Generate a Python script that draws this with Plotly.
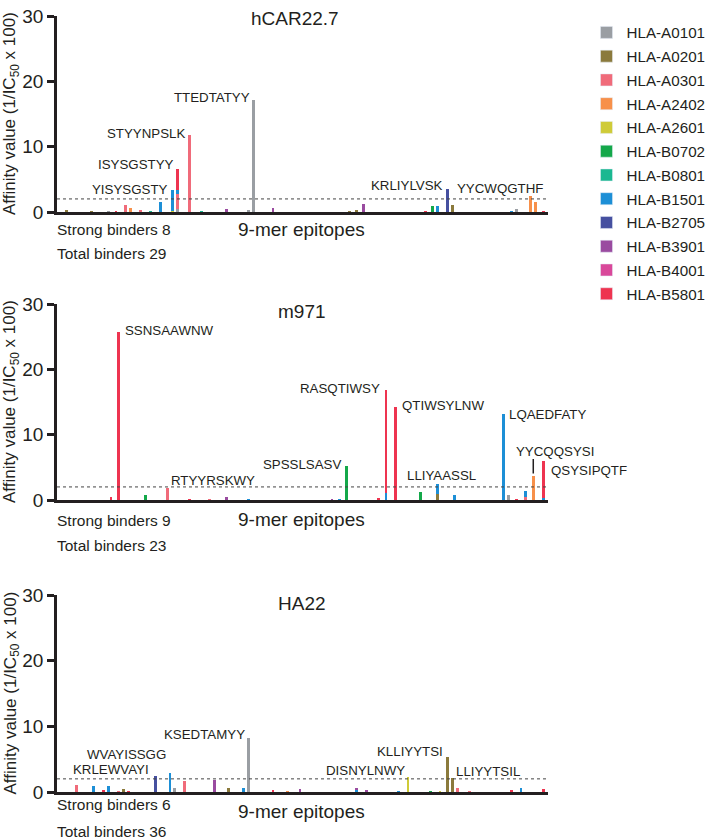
import plotly.graph_objects as go
from collections import defaultdict

W, H = 708, 840

ALLELES = ["HLA-A0101", "HLA-A0201", "HLA-A0301", "HLA-A2402", "HLA-A2601", "HLA-B0702",
           "HLA-B0801", "HLA-B1501", "HLA-B2705", "HLA-B3901", "HLA-B4001", "HLA-B5801"]
COLORS = ["#9A9EA3", "#8B7A3C", "#F06B7A", "#F7904A", "#CFCB38", "#14A84A",
          "#1BB891", "#1D8FD6", "#4650A0", "#9A4BA0", "#D9489A", "#EE3450"]

THRESHOLD = 2

# ---- hCAR22.7 ----
hcar_pos = [4, 14, 21, 24, 28, 30, 34, 38, 42, 47, 47, 49, 49, 49, 49, 54, 59, 69, 78, 80, 88,
            119, 122, 125, 150, 153, 155, 159, 161, 185, 187, 193, 195, 198]
hcar_allele = ["A0201", "A0201", "A0101", "B5801", "A0301", "A2402", "A0301", "B0801", "B1501",
               "B1501", "A2601", "B5801", "B1501", "A0301", "A0101", "A0301", "B0801", "B3901",
               "A0101", "A0101", "B3901", "A0201", "A0201", "B3901", "B5801", "B0702", "B1501",
               "B2705", "A0201", "B1501", "A0101", "A2402", "A2402", "B5801"]
hcar_val = [0.3, 0.15, 0.15, 0.15, 1.1, 0.6, 0.2, 0.1, 1.5,
            3.4, 0.15, 6.6, 3.3, 2.7, 0.5, 11.8, 0.1, 0.5,
            0.3, 17.2, 0.6, 0.15, 0.25, 1.2, 0.1, 0.85, 0.85,
            3.5, 1.0, 0.1, 0.45, 2.4, 1.5, 0.1]

# ---- m971 ----
m971_pos = [22, 25, 36, 45, 54, 62, 69, 78, 112, 115, 118, 131, 134, 134, 138, 148, 155, 155,
            162, 182, 184, 187, 191, 191, 194, 198, 198]
m971_allele = ["B5801", "B5801", "B0702", "A0301", "B5801", "A0301", "B3901", "B1501", "B3901",
               "B1501", "B0702", "B5801", "B5801", "B1501", "B5801", "B0702", "B1501", "A0201",
               "B1501", "B1501", "A0101", "B5801", "B1501", "A0301", "A2402", "B5801", "B1501"]
m971_val = [0.4, 25.7, 0.7, 1.9, 0.1, 0.1, 0.4, 0.1, 0.1,
            0.15, 5.2, 0.25, 16.9, 1.1, 14.3, 1.3, 2.4, 0.9,
            0.75, 13.1, 0.75, 0.1, 1.4, 0.4, 3.6, 6.0, 0.3]

# ---- HA22 ----
ha22_pos = [8, 15, 19, 21, 25, 27, 29, 40, 46, 48, 52, 64, 70, 76, 78, 88, 94, 99, 122, 122,
            126, 139, 143, 152, 156, 159, 161, 163, 168, 185, 189, 198]
ha22_allele = ["A0301", "B1501", "B5801", "B1501", "A0301", "A0201", "B5801", "B2705", "B1501",
               "A0101", "A0301", "B3901", "A0201", "B1501", "A0101", "B5801", "A2402", "B3901",
               "B3901", "B1501", "B3901", "B1501", "A2601", "B0702", "A2601", "A0201", "A0201",
               "A0301", "A0301", "B5801", "B1501", "B5801"]
ha22_val = [1.05, 0.85, 0.2, 0.9, 0.15, 0.45, 0.15, 2.5, 2.9,
            0.6, 1.7, 1.8, 0.55, 0.55, 8.3, 0.35, 0.1, 0.45,
            0.55, 0.2, 0.35, 0.15, 2.3, 0.15, 0.1, 5.4, 2.2,
            0.55, 0.1, 0.25, 0.65, 0.4]

PANEL_TITLES = ["hCAR22.7", "m971", "HA22"]
STRONG = [8, 9, 6]
TOTAL = [29, 23, 36]

# epitope labels: (text, position, value, xanchor, xshift px, yshift px)
hcar_labels = [("TTEDTATYY", 80, 17.2, "right", -1.5, 2),
               ("STYYNPSLK", 54, 11.8, "right", -3, 1),
               ("ISYSGSTYY", 49, 6.6, "right", -1.5, 4),
               ("YISYSGSTY", 47, 3.4, "right", -2, 0.5),
               ("KRLIYLVSK", 159, 3.5, "right", -2.5, 3.5),
               ("YYCWQGTHF", 193, 2.4, "right", 14, 8)]
m971_labels = [("SSNSAAWNW", 25, 25.7, "left", 5, 1.5),
               ("RTYYRSKWY", 45, 1.9, "left", 1.5, 7),
               ("SPSSLSASV", 118, 5.2, "right", -4, 1.5),
               ("RASQTIWSY", 134, 16.9, "right", -4, 1.5),
               ("QTIWSYLNW", 138, 14.3, "left", 4, 1.5),
               ("LLIYAASSL", 155, 2.4, "center", 4, 8.5),
               ("LQAEDFATY", 182, 13.1, "left", 3, 0),
               ("YYCQQSYSI", 194, 3.6, "center", 21.5, 25),
               ("QSYSIPQTF", 198, 6.0, "left", 6, -10)]
ha22_labels = [("KRLEWVAYI", 40, 2.5, "right", -4, 5.6),
               ("WVAYISSGG", 46, 2.9, "right", -2, 18),
               ("KSEDTAMYY", 78, 8.3, "right", -1, 3.4),
               ("DISNYLNWY", 143, 2.3, "right", -1.5, 6.7),
               ("KLLIYYTSI", 159, 5.4, "right", -2, 5),
               ("LLIYYTSIL", 161, 2.2, "left", 2, 5.6)]

# ---------------- layout geometry (pixels) ----------------
X0, X1 = 57, 548
PANEL_PX = [(16, 212), (304, 500), (595, 792)]   # (top of 30, bottom at 0)
FOOT_Y = [(229.5, 253.5, 229.5), (520, 545, 519), (804.5, 831.5, 811.5)]
TITLE_PX = [(295, 18.5), (301.5, 311), (301.5, 603)]

FONT = "Liberation Sans, Arial, sans-serif"
INK = "#231F20"


def px_x(p):
    return p / W


def px_y(p):
    return 1 - p / H


fig = go.Figure()

# legend entries
for name, col in zip(ALLELES, COLORS):
    fig.add_trace(go.Bar(x=[None], y=[None], name=name, marker_color=col,
                         legendgroup=name, showlegend=True, xaxis="x", yaxis="y"))

color_of = {a.replace("HLA-", ""): c for a, c in zip(ALLELES, COLORS)}
panels = [(hcar_pos, hcar_allele, hcar_val), (m971_pos, m971_allele, m971_val),
          (ha22_pos, ha22_allele, ha22_val)]

for i, (pos, alle, val) in enumerate(panels):
    ax = "" if i == 0 else str(i + 1)
    bypos = defaultdict(list)
    for p, a, v in zip(pos, alle, val):
        bypos[p].append((v, a))
    layers = defaultdict(lambda: ([], []))
    for p, items in bypos.items():
        for rank, (v, a) in enumerate(sorted(items, reverse=True)):
            layers[(rank, a)][0].append(p)
            layers[(rank, a)][1].append(v)
    for (rank, a) in sorted(layers.keys()):
        xs, ys = layers[(rank, a)]
        fig.add_trace(go.Bar(x=xs, y=ys, width=1.15, marker_color=color_of[a],
                             marker_line_width=0, showlegend=False,
                             legendgroup="HLA-" + a, name="HLA-" + a,
                             xaxis="x" + ax, yaxis="y" + ax))

annotations = []
shapes = []
layout_axes = {}
for i in range(3):
    ax = "" if i == 0 else str(i + 1)
    top, bot = PANEL_PX[i]
    layout_axes["xaxis" + ax] = dict(domain=[px_x(X0), px_x(X1)], range=[0, 200],
                                     showline=True, linecolor=INK, linewidth=2.5,
                                     showticklabels=False, ticks="", showgrid=False,
                                     zeroline=False, anchor="y" + ax, fixedrange=True)
    layout_axes["yaxis" + ax] = dict(domain=[px_y(bot), px_y(top)], range=[0, 30],
                                     tickvals=[0, 10, 20, 30], ticks="outside", ticklen=7,
                                     tickwidth=2.5, tickcolor=INK, showline=True,
                                     linecolor=INK, linewidth=2.5, showgrid=False,
                                     zeroline=False, anchor="x" + ax, fixedrange=True,
                                     tickfont=dict(size=19, color=INK, family=FONT))
    # threshold line
    shapes.append(dict(type="line", xref="x" + ax, yref="y" + ax, x0=0, x1=200,
                       y0=THRESHOLD, y1=THRESHOLD,
                       line=dict(color="#444444", width=1, dash="dot")))
    # y title
    annotations.append(dict(text="Affinity value (1/IC<sub>50</sub> x 100)", textangle=-90,
                            xref="paper", yref="paper", x=px_x(11), y=px_y((top + bot) / 2),
                            xanchor="center", yanchor="middle", showarrow=False,
                            font=dict(size=17, color=INK, family=FONT)))
    # panel title
    tx, ty = TITLE_PX[i]
    annotations.append(dict(text=PANEL_TITLES[i], xref="paper", yref="paper",
                            x=px_x(tx), y=px_y(ty), xanchor="center", yanchor="middle",
                            showarrow=False, font=dict(size=19, color=INK, family=FONT)))
    sy, ty2, ey = FOOT_Y[i]
    annotations.append(dict(text=f"Strong binders {STRONG[i]}", xref="paper", yref="paper",
                            x=px_x(55), y=px_y(sy), xanchor="left", yanchor="middle",
                            showarrow=False, font=dict(size=15.5, color=INK, family=FONT)))
    annotations.append(dict(text=f"Total binders {TOTAL[i]}", xref="paper", yref="paper",
                            x=px_x(55), y=px_y(ty2), xanchor="left", yanchor="middle",
                            showarrow=False, font=dict(size=15.5, color=INK, family=FONT)))
    annotations.append(dict(text="9-mer epitopes", xref="paper", yref="paper",
                            x=px_x(301), y=px_y(ey), xanchor="center", yanchor="middle",
                            showarrow=False, font=dict(size=19, color=INK, family=FONT)))

for i, labs in enumerate([hcar_labels, m971_labels, ha22_labels]):
    ax = "" if i == 0 else str(i + 1)
    for text, p, v, xa, dx, dy in labs:
        annotations.append(dict(text=text, xref="x" + ax, yref="y" + ax, x=p, y=v,
                                xanchor=xa, yanchor="middle", xshift=dx, yshift=dy,
                                showarrow=False,
                                font=dict(size=13.3, color=INK, family=FONT)))

# leader tick for YYCQQSYSI
annotations.append(dict(text="", xref="x2", yref="y2", x=194, y=3.6, showarrow=True,
                        arrowhead=0, arrowwidth=1.5, arrowcolor=INK, ax=0, ay=-19,
                        standoff=3))

fig.update_layout(
    width=W, height=H, margin=dict(l=0, r=0, t=0, b=0, autoexpand=False),
    paper_bgcolor="white", plot_bgcolor="white",
    barmode="overlay", bargap=0,
    font=dict(family=FONT, color=INK),
    showlegend=True,
    legend=dict(x=px_x(586.5), y=px_y(16), xanchor="left", yanchor="top",
                font=dict(size=15.2, color=INK, family=FONT), bgcolor="rgba(0,0,0,0)",
                traceorder="grouped", tracegroupgap=1,
                itemclick=False, itemdoubleclick=False),
    annotations=annotations, shapes=shapes,
    **layout_axes,
)

fig.write_html("out.html", config={"displayModeBar": False},
               post_script="document.body.style.margin='0';document.body.style.overflow='hidden';")
